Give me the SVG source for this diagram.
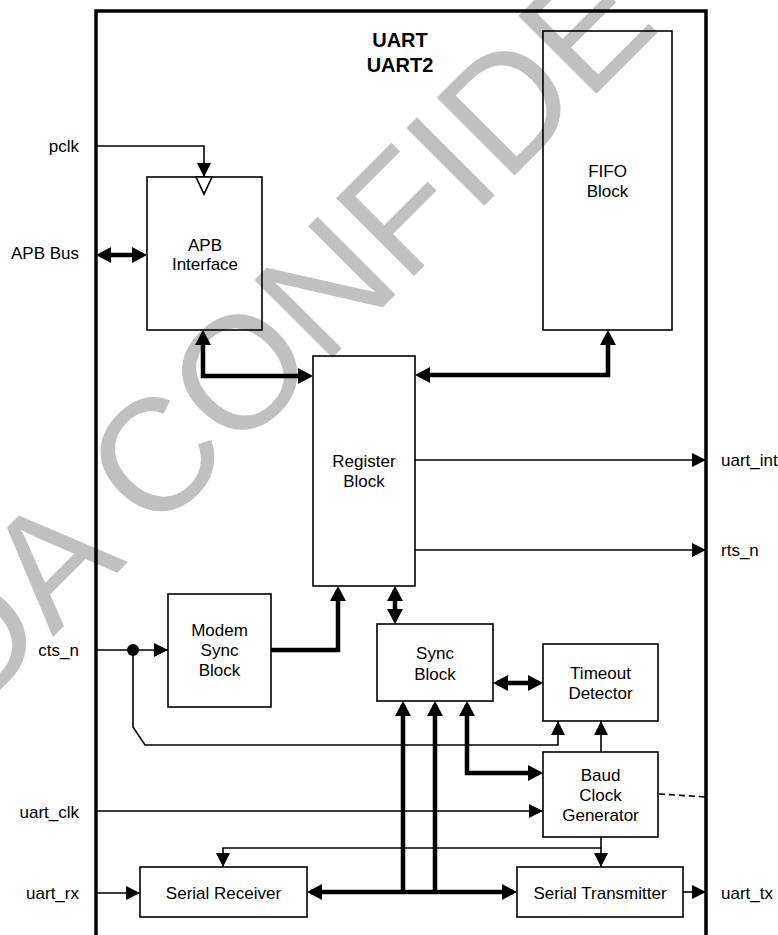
<svg xmlns="http://www.w3.org/2000/svg" width="778" height="935" viewBox="0 0 778 935">
<style>
.bg{fill:#ffffff}
.wm{font-family:"Liberation Sans",Arial,sans-serif;font-size:160px;fill:#c0c0c0}
.box{fill:none;stroke:#000;stroke-width:1.6}
.t{font-family:"Liberation Sans",Arial,sans-serif;font-size:17px;fill:#000;text-anchor:middle}
.lbl{font-family:"Liberation Sans",Arial,sans-serif;font-size:17px;fill:#000}
.title{font-family:"Liberation Sans",Arial,sans-serif;font-size:20px;font-weight:bold;fill:#000;text-anchor:middle}
.thin{fill:none;stroke:#000;stroke-width:1.6}
.thick{fill:none;stroke:#000;stroke-width:4.5}
.outer{fill:none;stroke:#000;stroke-width:3.5}
</style>
<defs>
<marker id="ah" markerUnits="userSpaceOnUse" markerWidth="14" markerHeight="14" refX="14" refY="7" orient="auto-start-reverse">
<path d="M0,0 L14,7 L0,14 z" fill="#000"/>
</marker>
<marker id="ahT" markerUnits="userSpaceOnUse" markerWidth="16" markerHeight="16" refX="11" refY="8" orient="auto-start-reverse">
<path d="M0,0 L15,8 L0,16 z" fill="#000"/>
</marker>
</defs>
<rect class="bg" x="0" y="0" width="778" height="935"/>
<text class="wm" transform="translate(-29,719) rotate(-45)">DA CONFIDE</text>

<path id="outer-box" class="outer" d="M96,940 V11 H706 V940"/>
<g id="title">
<text class="title" x="400" y="46.5">UART</text>
<text class="title" x="400" y="71.5">UART2</text>
</g>

<g id="apb-interface">
<rect class="box" x="147" y="177" width="115" height="153"/>
<polygon points="196,177 212,177 204,194" fill="#fff" stroke="#000" stroke-width="1.6"/>
<text class="t" x="205" y="251">APB</text>
<text class="t" x="205" y="270">Interface</text>
</g>
<g id="fifo-block">
<rect class="box" x="543" y="31" width="129" height="299"/>
<text class="t" x="607.5" y="177">FIFO</text>
<text class="t" x="607.5" y="197">Block</text>
</g>
<g id="register-block">
<rect class="box" x="313" y="356" width="102" height="230"/>
<text class="t" x="364" y="467">Register</text>
<text class="t" x="364" y="487">Block</text>
</g>
<g id="modem-sync-block">
<rect class="box" x="168" y="594" width="103" height="113"/>
<text class="t" x="219.5" y="636">Modem</text>
<text class="t" x="219.5" y="656">Sync</text>
<text class="t" x="219.5" y="676">Block</text>
</g>
<g id="sync-block">
<rect class="box" x="377" y="624" width="116" height="77"/>
<text class="t" x="435" y="659">Sync</text>
<text class="t" x="435" y="679.5">Block</text>
</g>
<g id="timeout-detector">
<rect class="box" x="543" y="644" width="115" height="77"/>
<text class="t" x="600.5" y="679">Timeout</text>
<text class="t" x="600.5" y="699">Detector</text>
</g>
<g id="baud-clock-generator">
<rect class="box" x="543" y="752" width="115" height="85"/>
<text class="t" x="600.5" y="781">Baud</text>
<text class="t" x="600.5" y="801">Clock</text>
<text class="t" x="600.5" y="821">Generator</text>
</g>
<g id="serial-receiver">
<rect class="box" x="140" y="867" width="167" height="50"/>
<text class="t" x="223.5" y="899">Serial Receiver</text>
</g>
<g id="serial-transmitter">
<rect class="box" x="517" y="867" width="166" height="50"/>
<text class="t" x="600" y="899">Serial Transmitter</text>
</g>

<g id="port-labels">
<text class="lbl" x="79" y="152" text-anchor="end">pclk</text>
<text class="lbl" x="79" y="259" text-anchor="end">APB Bus</text>
<text class="lbl" x="79" y="656" text-anchor="end">cts_n</text>
<text class="lbl" x="79" y="818" text-anchor="end">uart_clk</text>
<text class="lbl" x="79" y="899" text-anchor="end">uart_rx</text>
<text class="lbl" x="721" y="466">uart_int</text>
<text class="lbl" x="721" y="556">rts_n</text>
<text class="lbl" x="721" y="899">uart_tx</text>
</g>

<g id="connectors">
<path class="thin" d="M96,146 H204 V177" marker-end="url(#ah)"/>
<path class="thin" d="M96,650 H168" marker-end="url(#ah)"/>
<path class="thin" d="M133,650 V727 L145,745 H558 V721" marker-end="url(#ah)"/>
<circle cx="133" cy="650" r="6" fill="#000"/>
<path class="thin" d="M415,460 H706" marker-end="url(#ah)"/>
<path class="thin" d="M415,550 H706" marker-end="url(#ah)"/>
<path class="thin" d="M96,811 H543" marker-end="url(#ah)"/>
<path class="thin" d="M601,752 V721" marker-end="url(#ah)"/>
<path class="thin" d="M601,837 V867" marker-end="url(#ah)"/>
<path class="thin" d="M601,848 H223 V867" marker-end="url(#ah)"/>
<path class="thin" d="M96,893 H140" marker-end="url(#ah)"/>
<path class="thin" d="M683,892 H706" stroke-width="2.5" marker-end="url(#ah)"/>
<path class="thin" d="M659,794 L706,797" stroke-width="2" stroke-dasharray="6,4"/>

<path class="thick" d="M100,255 H143" marker-start="url(#ahT)" marker-end="url(#ahT)"/>
<path class="thick" d="M203,334 V376 H309" marker-start="url(#ahT)" marker-end="url(#ahT)"/>
<path class="thick" d="M419,375 H608 V334" marker-start="url(#ahT)" marker-end="url(#ahT)"/>
<path class="thick" d="M271,650 H338 V590" marker-end="url(#ahT)"/>
<path class="thick" d="M395,590 V620" marker-start="url(#ahT)" marker-end="url(#ahT)"/>
<path class="thick" d="M497,683 H539" marker-start="url(#ahT)" marker-end="url(#ahT)"/>
<path class="thick" d="M467,705 V773 H539" marker-start="url(#ahT)" marker-end="url(#ahT)"/>
<path class="thick" d="M311,892 H513" marker-start="url(#ahT)" marker-end="url(#ahT)"/>
<path class="thick" d="M403,892 V705" marker-end="url(#ahT)"/>
<path class="thick" d="M435,892 V705" marker-end="url(#ahT)"/>
</g>
</svg>
